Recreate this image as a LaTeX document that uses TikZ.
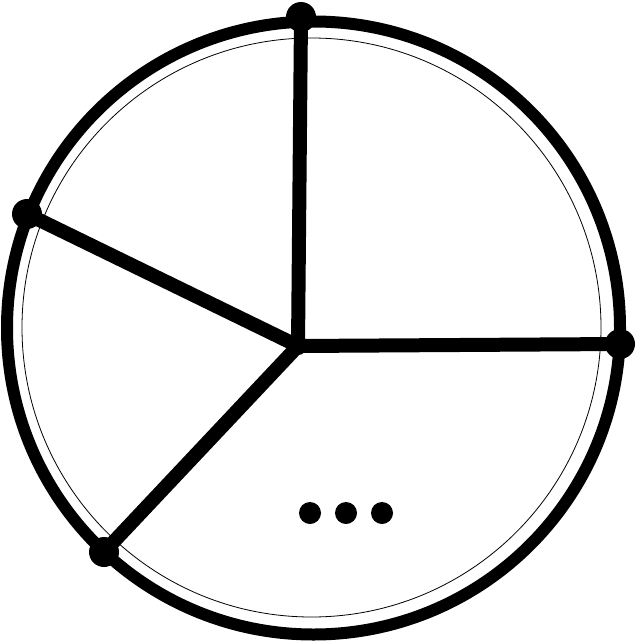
\documentclass[tikz,border=0pt]{standalone}
\begin{document}
\begin{tikzpicture}[x=1pt,y=-1pt,
  rimdot/.style={circle,fill=black,inner sep=0pt,minimum size=30pt},
  elldot/.style={circle,fill=black,inner sep=0pt,minimum size=22pt},
  spoke/.style={line width=14pt},
  rim/.style={line width=12pt},
  innerrim/.style={line width=0.8pt}]
\useasboundingbox (0,0) rectangle (637,642);
\coordinate (c) at (313.5,328);
\coordinate (ci) at (311.5,327.5);
\draw[rim] (c) circle[radius=306.5];
\draw[innerrim] (ci) circle[radius=289.5];
\coordinate (hub) at (298,346);
\node[rimdot] (top) at (301,17) {};
\node[rimdot] (right) at (620,344) {};
\node[rimdot] (left) at (27,214) {};
\node[rimdot] (botleft) at (104,552) {};
\draw[spoke] (hub) -- (top.center);
\draw[spoke] (hub) -- (right.center);
\draw[spoke] (hub) -- (left.center);
\draw[spoke] (hub) -- (botleft.center);
\fill (hub) circle[radius=9];
\node[elldot] (d1) at (310,513) {};
\node[elldot] (d2) at (346,513) {};
\node[elldot] (d3) at (382,513) {};
\end{tikzpicture}
\end{document}
